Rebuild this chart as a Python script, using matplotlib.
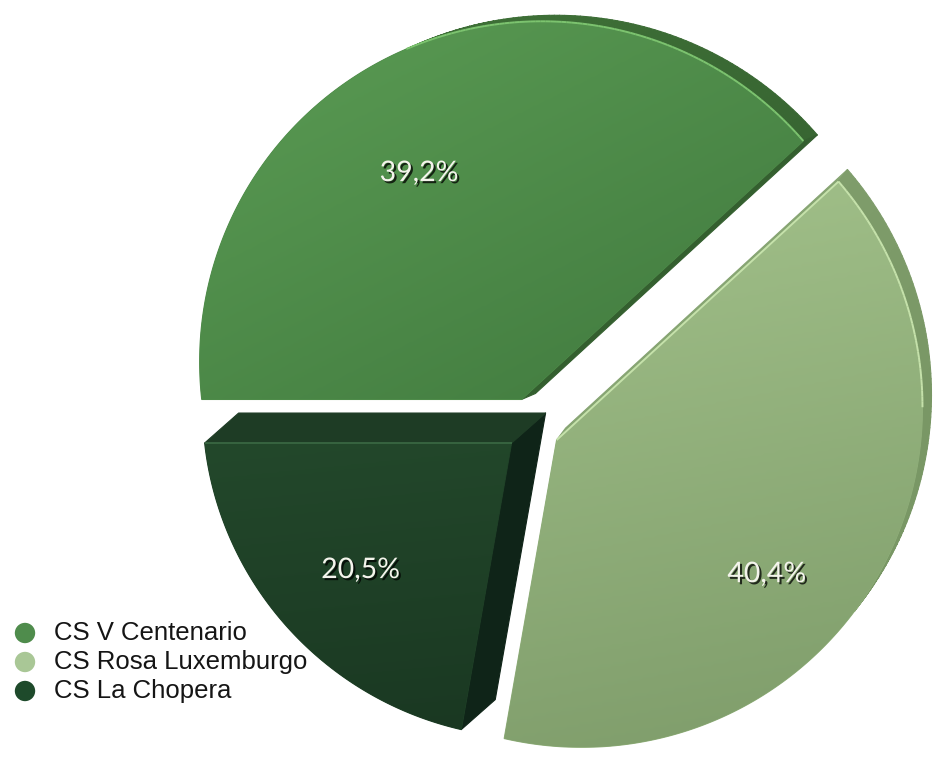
import numpy as np
import matplotlib.pyplot as plt
import matplotlib.patheffects as pe
from matplotlib.patches import Polygon
from matplotlib.collections import PolyCollection, LineCollection
from matplotlib.colors import LinearSegmentedColormap, to_rgb

# ── Data ───────────────────────────────────────────────────────
centres      = ['CS V Centenario', 'CS Rosa Luxemburgo', 'CS La Chopera']
shares       = [39.2, 40.4, 20.5]
share_labels = ['39,2%', '40,4%', '20,5%']

# ── Style ──────────────────────────────────────────────────────
face_top    = ['#5b9c54', '#a2c18a', '#23482b']   # gradient start on the face
face_bottom = ['#40793e', '#7e9c6a', '#1a3822']   # gradient end on the face
grad_dir    = [(0.45, 0.9), (0.2, 1.0), (0.1, 1.0)]
side_up     = ['#3d6e36', '#86a472', '#1e3c25']   # extruded side, facing up
side_right  = ['#345f2f', '#799765', '#0f2418']   # extruded side, facing right
highlight   = ['#82ca74', '#cbe7b0', '#3a6843']
legend_cols = ['#4f8c4c', '#a9c796', '#1e4a2b']
depth       = [(14, -6), (9, -12), (34, -30)]     # extrusion offset per slice (px)
size_scale  = [1.0, 1.0, 0.96]
label_frac  = [0.68, 0.73, 0.68]

W, H = 934, 758
CX, CY = 533, 425
EXPLODE = 28
R0, R1, PHI = 342, 42, 58
SHEAR, STRETCH = -0.111, 1.03     # tilt of the pie plane


def direction(theta):
    """Unit screen direction (x right, y up) for a pie angle in degrees."""
    t = np.radians(theta)
    v = np.stack([np.cos(t) + SHEAR * np.sin(t), STRETCH * np.sin(t)])
    return v / np.linalg.norm(v, axis=0)


def radius(u, k):
    phi = np.radians(PHI)
    return size_scale[k] * (R0 + R1 * (u[0] * np.cos(phi) + u[1] * np.sin(phi)))


def mix(c1, c2, t):
    a, b = np.array(to_rgb(c1)), np.array(to_rgb(c2))
    return tuple(a + (b - a) * t)


total = sum(shares)
spans = [360.0 * s / total for s in shares]
starts = 180.0 - np.concatenate([[0.0], np.cumsum(spans)[:-1]])

fig = plt.figure(figsize=(W / 100, H / 100), dpi=100)
fig.patch.set_facecolor('white')
ax = fig.add_axes([0, 0, 1, 1])

for k in range(len(shares)):
    t1 = starts[k]
    t2 = t1 - spans[k]
    mid = (t1 + t2) / 2
    um = direction(np.array([mid]))[:, 0]
    tip = np.array([CX + EXPLODE * um[0], CY - EXPLODE * um[1]])
    u = direction(np.linspace(t1, t2, 180))
    r = radius(u, k)
    arc = np.column_stack([tip[0] + r * u[0], tip[1] - r * u[1]])
    face = np.vstack([tip, arc])
    d = np.array(depth[k], dtype=float)
    centroid = face.mean(axis=0)

    # side walls that face the viewer
    quads, cols, lit = [], [], []
    n_pts = len(face)
    for i in range(n_pts):
        p, q = face[i], face[(i + 1) % n_pts]
        e = q - p
        n = np.array([e[1], -e[0]]) / np.hypot(*e)
        if np.dot(n, (p + q) / 2 - centroid) < 0:
            n = -n
        if np.dot(n, d) <= 0:
            continue
        quads.append([p, q, q + d, p + d])
        t = np.clip((n[0] + n[1] + 1) / 2, 0, 1)
        cols.append(mix(side_up[k], side_right[k], t))
        if n[1] < 0:
            lit.append([p, q])
    ax.add_collection(PolyCollection(quads, facecolors=cols, edgecolors=cols,
                                     linewidths=0.8, zorder=2))

    # front face with a soft gradient
    mid_col = mix(face_top[k], face_bottom[k], 0.5)
    patch = Polygon(face, closed=True, facecolor=mid_col, edgecolor=mid_col,
                    lw=0.8, zorder=3)
    ax.add_patch(patch)
    x0, x1 = face[:, 0].min(), face[:, 0].max()
    y0, y1 = face[:, 1].min(), face[:, 1].max()
    X, Y = np.meshgrid(np.linspace(x0, x1, 200), np.linspace(y0, y1, 200))
    gx, gy = grad_dir[k]
    proj = X * gx + Y * gy
    proj = (proj - proj.min()) / (proj.max() - proj.min())
    cmap = LinearSegmentedColormap.from_list(f'slice{k}', [face_top[k], face_bottom[k]])
    img = ax.imshow(proj, extent=(x0, x1, y1, y0), origin='upper', cmap=cmap,
                    interpolation='bilinear', zorder=4)
    img.set_clip_path(patch)

    if lit:
        ax.add_collection(LineCollection(lit, colors=highlight[k], linewidths=1.4,
                                         alpha=0.9, zorder=5))

    # percentage label
    lr = label_frac[k] * radius(um, k)
    ax.text(tip[0] + lr * um[0], tip[1] - lr * um[1],
            share_labels[k], ha='center', va='center', fontsize=20.5, color='#f4f4ec',
            family='Lato', zorder=6,
            path_effects=[pe.withSimplePatchShadow(offset=(1.5, -1.5),
                                                   shadow_rgbFace='black', alpha=0.75)])

# ── Legend ─────────────────────────────────────────────────────
for i, (name, col) in enumerate(zip(centres, legend_cols)):
    y = 633 + i * 29
    ax.scatter([25], [y], s=215, color=col, edgecolors='none', zorder=6)
    ax.text(54, y, name, ha='left', va='center', fontsize=18.5,
            family='Liberation Sans', color='#151515', zorder=6)

ax.set_aspect('auto')
ax.set_xlim(0, W)
ax.set_ylim(H, 0)
ax.axis('off')

fig.savefig('out.png', dpi=100, facecolor='white')
